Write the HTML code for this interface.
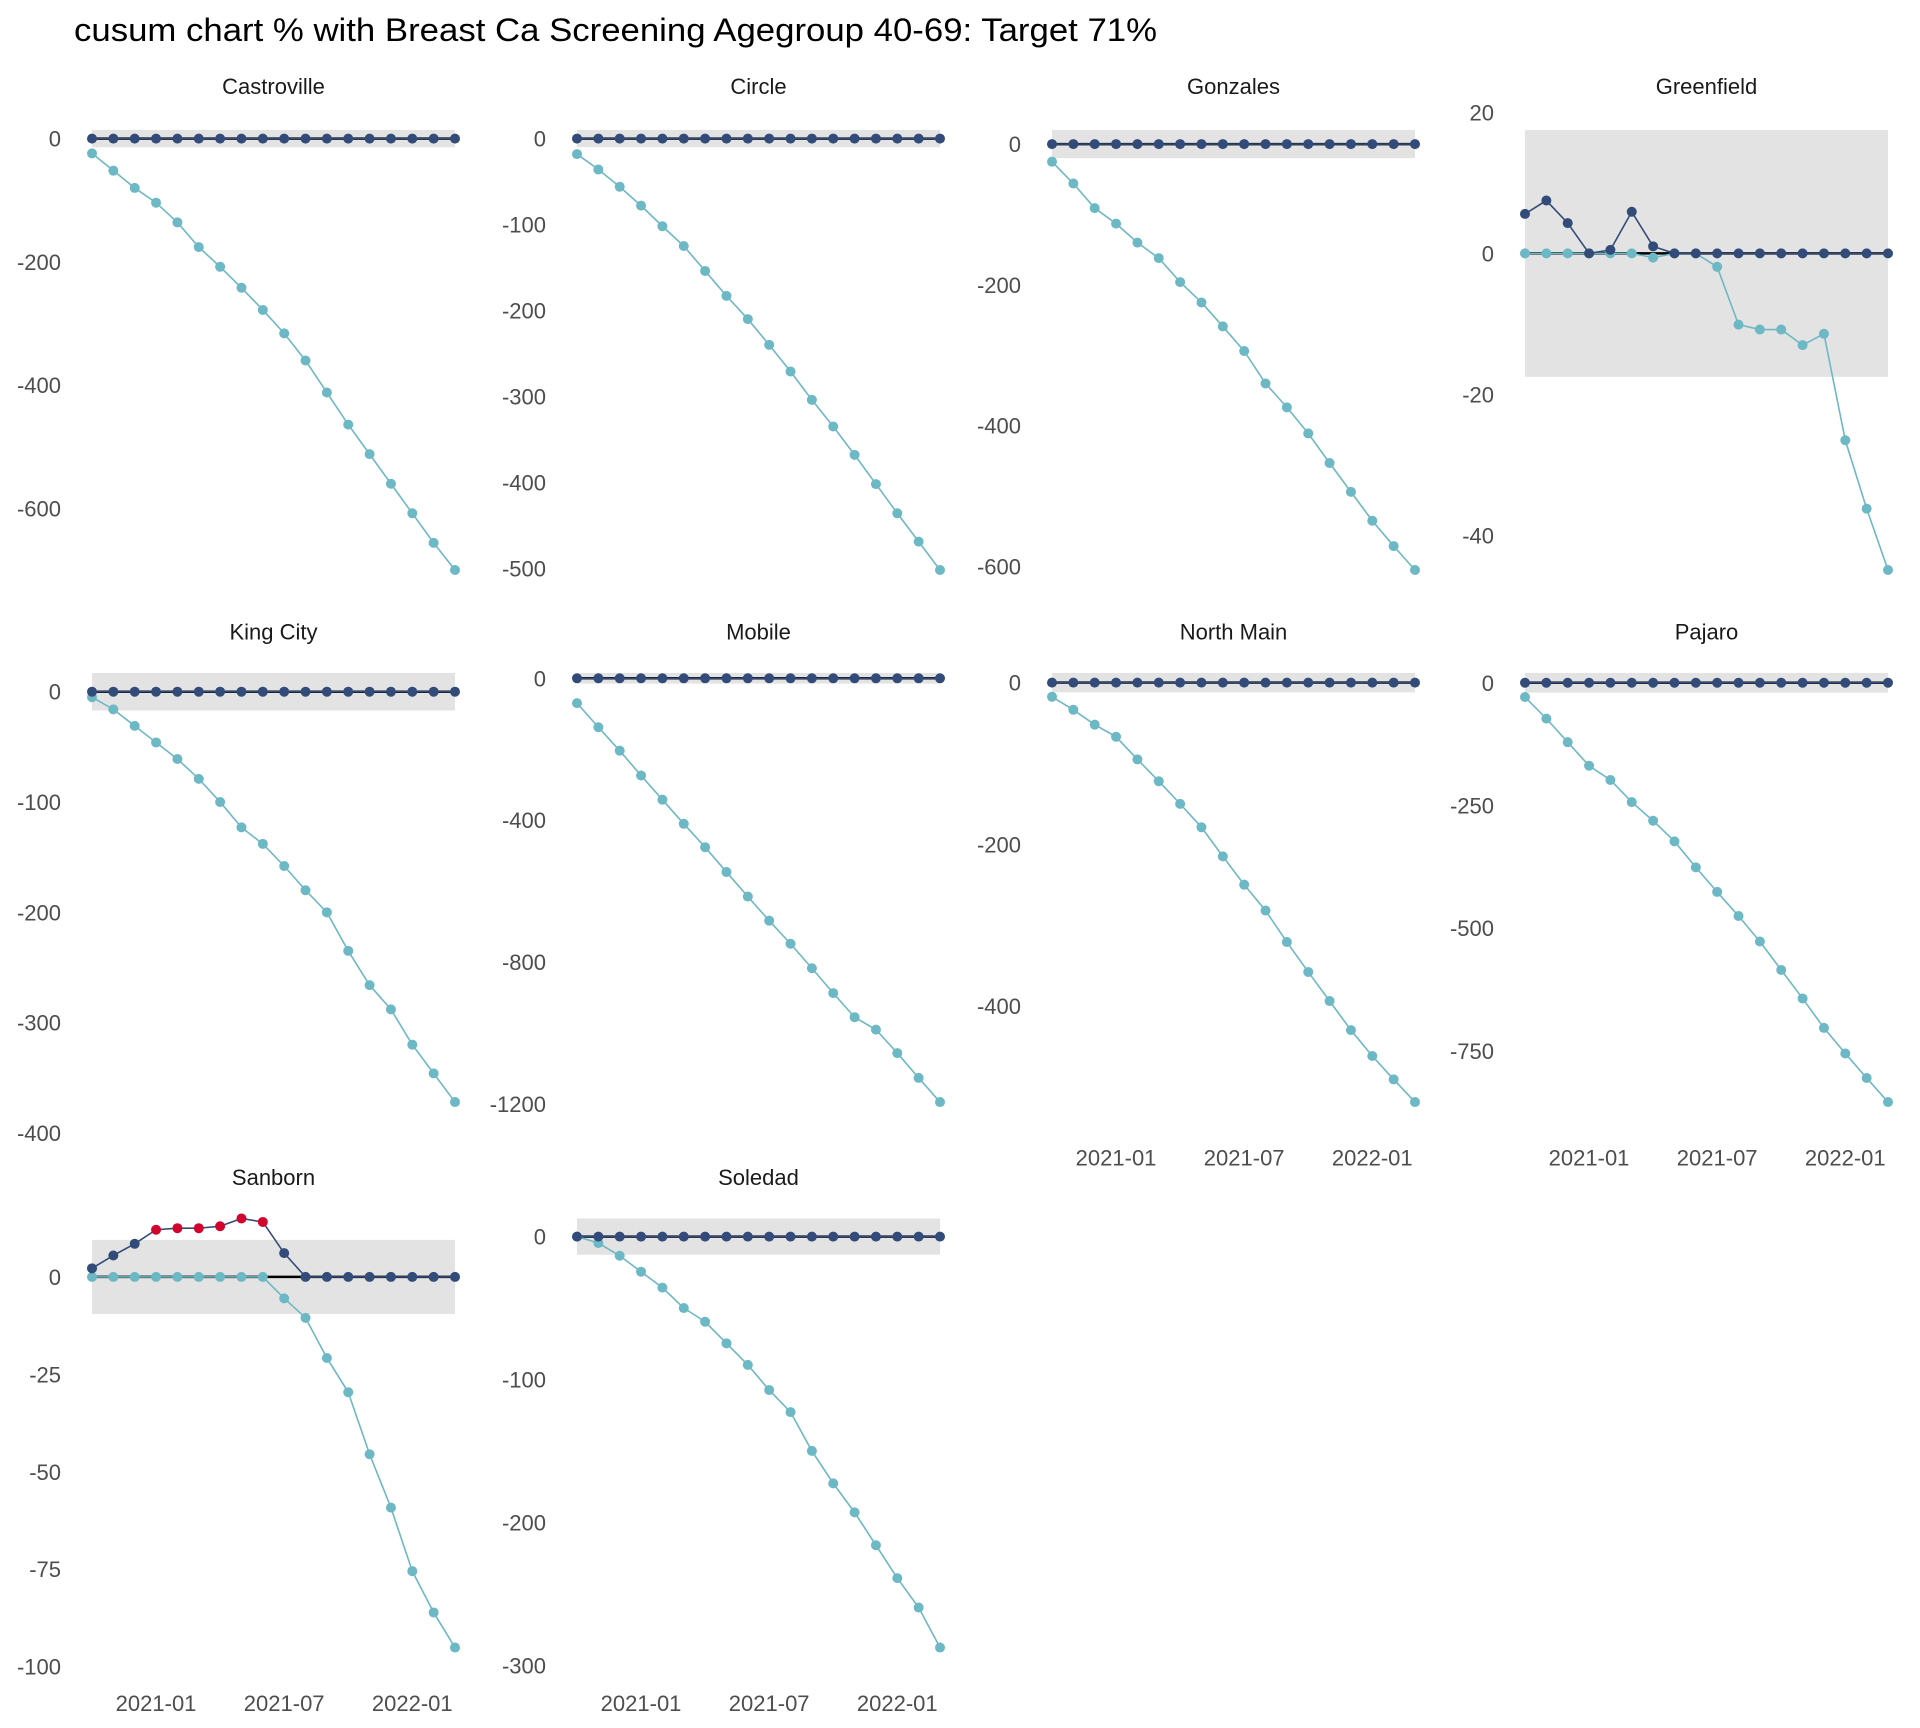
<!DOCTYPE html>
<html><head><meta charset="utf-8">
<style>
html,body{margin:0;padding:0;background:#fff;}
svg{display:block;font-family:"Liberation Sans",Arial,sans-serif;}
</style></head>
<body>
<svg id="chart" width="1920" height="1728" viewBox="0 0 1920 1728" xmlns="http://www.w3.org/2000/svg">
<rect width="1920" height="1728" fill="#ffffff"/>
<text x="74" y="41" font-size="32" fill="#000" textLength="1083" lengthAdjust="spacingAndGlyphs">cusum chart % with Breast Ca Screening Agegroup 40-69: Target 71%</text>
</svg>
<script>
// months 2020-10 .. 2022-03 (index 0..17)
const xTickIdx = [3, 9, 15];
const xTickLabels = ["2021-01", "2021-07", "2022-01"];

const sites = ["Castroville","Circle","Gonzales","Greenfield","King City","Mobile","North Main","Pajaro","Sanborn","Soledad"];

const castrovilleUpper = [0,0,0,0,0,0,0,0,0,0,0,0,0,0,0,0,0,0];
const castrovilleLower = [-24,-52,-80,-104,-136,-176,-208,-242,-278,-316,-360,-412,-464,-512,-560,-608,-656,-700];
const circleUpper = [0,0,0,0,0,0,0,0,0,0,0,0,0,0,0,0,0,0];
const circleLower = [-18,-36,-56,-78,-102,-125,-154,-183,-210,-240,-271,-304,-335,-368,-402,-436,-469,-502];
const gonzalesUpper = [0,0,0,0,0,0,0,0,0,0,0,0,0,0,0,0,0,0];
const gonzalesLower = [-25,-56,-91,-113,-140,-162,-196,-225,-259,-294,-340,-374,-411,-453,-494,-535,-571,-605];
const greenfieldUpper = [5.6,7.5,4.3,0,0.5,5.9,1.0,0,0,0,0,0,0,0,0,0,0,0];
const greenfieldLower = [0,0,0,0,0,0,-0.6,0,0,-1.9,-10.1,-10.8,-10.8,-13.0,-11.4,-26.5,-36.2,-44.9];
const kingCityUpper = [0,0,0,0,0,0,0,0,0,0,0,0,0,0,0,0,0,0];
const kingCityLower = [-5,-16,-31,-46,-61,-79,-100,-123,-138,-158,-180,-200,-235,-266,-288,-320,-346,-372];
const mobileUpper = [0,0,0,0,0,0,0,0,0,0,0,0,0,0,0,0,0,0];
const mobileLower = [-70,-138,-204,-274,-342,-410,-476,-546,-615,-683,-748,-817,-887,-955,-990,-1056,-1126,-1194];
const northMainUpper = [0,0,0,0,0,0,0,0,0,0,0,0,0,0,0,0,0,0];
const northMainLower = [-17.5,-33.6,-52,-67,-95,-122,-150,-179,-215,-250,-282,-321,-358,-394,-430,-462,-491,-519];
const pajaroUpper = [0,0,0,0,0,0,0,0,0,0,0,0,0,0,0,0,0,0];
const pajaroLower = [-29,-73,-121,-169,-198,-243,-281,-323,-376,-426,-475,-527,-585,-643,-703,-755,-805,-854];
const sanbornUpper = [2.2,5.5,8.5,12.1,12.5,12.5,13.0,15.0,14.1,6.1,0,0,0,0,0,0,0,0];
const sanbornLower = [0,0,0,0,0,0,0,0,0,-5.5,-10.5,-20.8,-29.6,-45.5,-59.2,-75.5,-86.1,-95.1];
const soledadUpper = [0,0,0,0,0,0,0,0,0,0,0,0,0,0,0,0,0,0];
const soledadLower = [0,-4.5,-13.4,-24.6,-35.7,-50,-59.6,-74.7,-89.8,-107.4,-122.8,-150,-172.7,-193,-216,-239,-259.6,-287.6];

const controlLimits = [14, 10, 20, 17.5, 17, 15, 12, 20, 9.5, 12.7];

const castrovilleTicks = [0,-200,-400,-600];
const circleTicks = [0,-100,-200,-300,-400,-500];
const gonzalesTicks = [0,-200,-400,-600];
const greenfieldTicks = [20,0,-20,-40];
const kingCityTicks = [0,-100,-200,-300,-400];
const mobileTicks = [0,-400,-800,-1200];
const northMainTicks = [0,-200,-400];
const pajaroTicks = [0,-250,-500,-750];
const sanbornTicks = [0,-25,-50,-75,-100];
const soledadTicks = [0,-100,-200,-300];

const uppers = [castrovilleUpper,circleUpper,gonzalesUpper,greenfieldUpper,kingCityUpper,mobileUpper,northMainUpper,pajaroUpper,sanbornUpper,soledadUpper];
const lowers = [castrovilleLower,circleLower,gonzalesLower,greenfieldLower,kingCityLower,mobileLower,northMainLower,pajaroLower,sanbornLower,soledadLower];
const ticks = [castrovilleTicks,circleTicks,gonzalesTicks,greenfieldTicks,kingCityTicks,mobileTicks,northMainTicks,pajaroTicks,sanbornTicks,soledadTicks];

const NS = "http://www.w3.org/2000/svg";
const svg = document.getElementById("chart");
const colFirst = [92, 577, 1052, 1525];
const pointSpan = 363;
const rowTops = [108, 651.5, 1197];
const rowHeights = [484, 472, 472];
const DARK = "#324b78", LIGHT = "#6db8c5", RED = "#d2042d";

function mk(tag, attrs, parent) {
  const e = document.createElementNS(NS, tag);
  for (const k in attrs) e.setAttribute(k, attrs[k]);
  (parent || svg).appendChild(e);
  return e;
}

sites.forEach((site, s) => {
  const row = Math.floor(s / 4), col = s % 4;
  const up = uppers[s], lo = lowers[s], lim = controlLimits[s];
  const n = up.length;
  const x0 = colFirst[col];
  const xs = i => x0 + i * pointSpan / (n - 1);
  let ymax = Math.max(lim, ...up, ...lo), ymin = Math.min(-lim, ...up, ...lo);
  const ex = (ymax - ymin) * 0.05; ymax += ex; ymin -= ex;
  const top = rowTops[row], panelH = rowHeights[row];
  const ys = v => top + (ymax - v) / (ymax - ymin) * panelH;
  const slug = site.toLowerCase().replace(/ /g, "-");

  const g = mk("g", {});
  
  

  const st = mk("text", {x: x0 + pointSpan / 2, y: (row === 0 ? 94 : top - 12), "font-size": 22, fill: "#1a1a1a", "text-anchor": "middle"}, g);
  
  
  st.textContent = site;

  ticks[s].forEach(t => {
    const tl = mk("text", {x: x0 - 31, y: ys(t) + 8, "font-size": 22, fill: "#4d4d4d", "text-anchor": "end"}, g);
    
    
    tl.textContent = String(t);
  });

  const band = mk("rect", {x: xs(0), y: ys(lim), width: pointSpan, height: ys(-lim) - ys(lim), fill: "#e3e3e3"}, g);
  
  

  const zl = mk("line", {x1: xs(0), x2: xs(n - 1), y1: ys(0), y2: ys(0), stroke: "#000", "stroke-width": 2.5}, g);
  
  

  [[lo, LIGHT, 'lower-cusum', false], [up, DARK, 'upper-cusum', true]].forEach(([arr, color, nm, isUpper]) => {
    const pl = mk("polyline", {points: arr.map((v, i) => xs(i) + "," + ys(v)).join(" "), fill: "none", stroke: color, "stroke-width": 1.6}, g);
    
    
    arr.forEach((v, i) => {
      const out = isUpper && v > lim;
      const c = mk("circle", {cx: xs(i), cy: ys(v), r: 5, fill: out ? RED : color}, g);
      
      
    });
  });

  const showX = (row === 2) || (row === 1 && col >= 2);
  if (showX) {
    xTickIdx.forEach((ti, k) => {
      const xl = mk("text", {x: xs(ti), y: top + panelH + 42, "font-size": 22, fill: "#4d4d4d", "text-anchor": "middle"}, g);
      
      
      xl.textContent = xTickLabels[k];
    });
  }
});
</script>
</body></html>
